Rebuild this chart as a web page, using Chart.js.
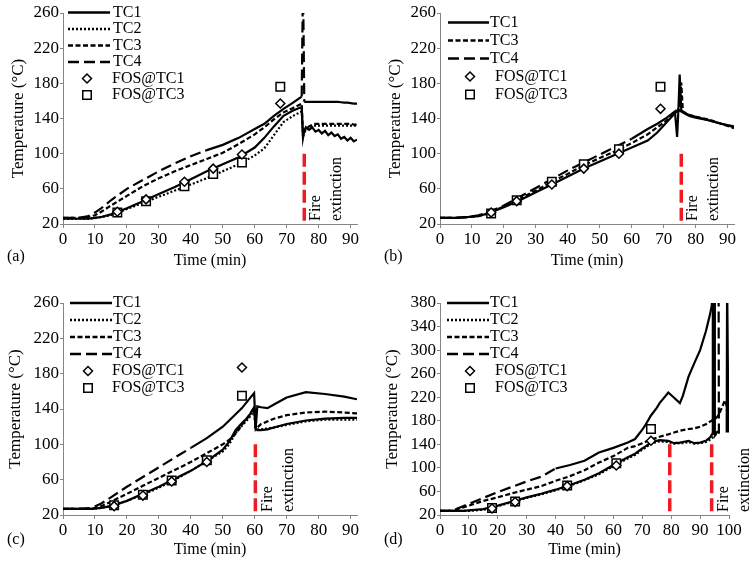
<!DOCTYPE html>
<html>
<head>
<meta charset="utf-8">
<script src="https://cdn.jsdelivr.net/npm/chart.js@4.4.1/dist/chart.umd.min.js"></script>
<style>
  body { margin: 0; background: #fff; }
  #wrap { position: relative; width: 754px; height: 566px; background: #fff; }
  canvas { position: absolute; }
</style>
</head>
<body>
<div id="wrap">
  <canvas id="chartA" width="377" height="283" style="left:0;top:0"></canvas>
  <canvas id="chartB" width="377" height="283" style="left:377px;top:0"></canvas>
  <canvas id="chartC" width="377" height="283" style="left:0;top:283px"></canvas>
  <canvas id="chartD" width="377" height="283" style="left:377px;top:283px"></canvas>
</div>
<script>
// ---- panel (a) ----
var timeA = [0, 5, 8, 10, 12, 15, 20, 25, 30, 35, 40, 45, 50, 55, 60, 63, 66, 69, 72, 74.7, 75.1, 75.5, 76, 77, 78, 79, 80, 81, 82, 83, 84, 85, 86, 87, 88, 89, 90, 91, 92];
var tc1A = [26, 26, 26, 27, 28, 31, 38, 46, 54, 62, 71, 80, 88, 96, 107, 118, 131, 143, 149, 153, 118, 126, 130, 127, 130, 125, 127, 123, 126, 121, 124, 120, 122, 117, 119, 115, 118, 114, 116];
var tc2A = [26, 26, 26, 27, 28, 30, 37, 44, 51, 58, 65, 72, 80, 88, 98, 106, 121, 136, 143, 148, 119, 124, 127, 129, 131, 132, 132, 132, 132, 132, 132, 132, 132, 132, 132, 132, 132, 132, 132];
var tc3A = [27, 27, 28, 30, 34, 41, 52, 63, 72, 80, 87, 94, 101, 111, 122, 130, 139, 147, 152, 157, 122, 125, 128, 131, 133, 134, 134, 134, 134, 134, 134, 134, 134, 134, 134, 134, 134, 133, 133];
var tc4A = [27, 27, 29, 33, 38, 47, 60, 70, 80, 89, 97, 104, 110, 118, 128, 134, 143, 151, 158, 165, 300, 159, 159, 159, 159, 159, 159, 159, 159, 159, 159, 159, 159, 158.5, 158, 158, 157.5, 157, 157];
var fosTimeA = [17, 26, 38, 47, 56, 68];
var fos1A = [34, 48, 68, 83, 99, 157];
var fos3A = [33, 46, 63, 77, 90, 176];
var fireA = [75.5];

// ---- panel (b) ----
var timeB = [0, 5, 9, 12, 15, 20, 25, 30, 35, 40, 45, 50, 55, 60, 65, 68, 71, 73.5, 74.2, 74.6, 75, 75.5, 76, 78, 80, 84, 88, 92];
var tc1B = [27, 27, 28, 29, 32, 39, 47, 56, 65, 74, 83, 91, 99, 107, 115, 124, 136, 146, 149, 150, 190, 150, 147, 143, 141, 138, 134, 130];
var tc3B = [27, 27, 28, 29, 32, 40, 49, 58, 68, 77, 87, 95, 103, 112, 122, 130, 138, 146, 148, 149, 150, 181, 148, 144, 142, 139, 134, 129];
var tc4B = [27, 27, 28, 30, 33, 41, 51, 61, 71, 81, 90, 99, 108, 117, 128, 134, 141, 148, 119, 150, 149, 148, 147, 144, 142, 138, 134, 131];
var fosTimeB = [16, 24, 35, 45, 56, 69];
var fos1B = [33, 46, 65, 83, 100, 151];
var fos3B = [32, 47, 68, 88, 105, 176];
var fireB = [75.5];

// ---- panel (c) ----
var timeC = [0, 5, 9, 12, 15, 20, 25, 30, 35, 40, 45, 50, 52, 54, 56, 58, 59.8, 60.3, 60.8, 62, 64, 66, 70, 76, 82, 88, 92];
var tc1C = [27, 27, 27, 28, 30, 36, 44, 52, 61, 70, 81, 94, 103, 116, 124, 131, 142, 118, 116, 116, 117, 119, 123, 127, 129, 130, 130];
var tc2C = [27, 27, 27, 28, 30, 36, 43, 51, 60, 70, 81, 92, 100, 113, 121, 129, 138, 118, 117, 117, 118, 119, 122, 126, 128, 128, 128];
var tc3C = [27, 27, 27, 30, 35, 44, 53, 62, 71, 80, 90, 100, 105, 112, 122, 132, 141, 117, 119, 123, 126, 129, 133, 136, 137, 136, 135];
var tc4C = [27, 27, 28, 33, 40, 52, 63, 74, 85, 96, 107, 120, 127, 134, 141, 150, 158, 118, 143, 142, 141, 145, 153, 159, 157, 154, 151];
var fosTimeC = [16, 25, 34, 45, 56];
var fos1C = [30, 42, 58, 80, 187];
var fos3C = [31, 43, 59, 82, 155];
var fireC = [60.2];

// ---- panel (d) ----
var timeD = [0, 4, 6, 8, 10, 15, 20, 25, 30, 35, 40, 45, 50, 55, 60, 65, 67.5, 70, 71, 73, 75, 76, 79, 81, 83, 84, 86, 88, 90, 92, 92.5, 93.5, 94, 94.2, 94.4, 94.9, 95.1, 96, 96.4, 96.5, 97, 98.6, 99.2, 99.35, 99.65, 99.8, 100];
var tc1D = [27, 27, 27, 27, 28, 30, 36, 43, 50, 56, 63, 71, 80, 91, 105, 118, 124, 133, 136, 143, 146, 147, 146, 142, 143, 144, 146, 142, 143, 146, 148, 152, 156, 158, 420, 420, 155, 162, null, null, null, null, 160, 420, 420, 160, null];
var tc2D = [27, 27, 27, 27, 27, 29, 35, 42, 49, 55, 62, 70, 79, 89, 103, 116, 122, 131, 134, 141, 144, 145, 144, 141, 142, 142, 144, 141, 142, 144, 145, 148, 150, 151, 152, 154, 155, 160, 163, null, null, null, null, null, null, null, null];
var tc3D = [27, 27, 30, 33, 36, 44, 50, 57, 63, 69, 78, 86, 96, 109, 120, 134, 137, 142, 144, 148, 151, 153, 157, 160, 163, 164, 166, 167, 170, 174, 175, 179, 180, 181, 181, 182, 183, 187, 190, 191, 196, 215, 205, 198, 180, 163, null];
var tc4D = [27, 27, 31, 35, 39, 49, 59, 68, 77, 85, 99, 105, 112, 126, 134, 143, 149, 165, 172, 189, 202, 210, 228, 219, 210, 222, 255, 278, 300, 332, 342, 362, 375, 385, 420, 420, 420, 420, 420, 158, null, null, null, null, null, null, null];
var fosTimeD = [18, 26, 44, 61, 73];
var fos1D = [31, 42, 69, 104, 146];
var fos3D = [32, 43, 70, 108, 166];
var fireD = [79.5, 94];

var FONT = '"Liberation Serif", "Times New Roman", serif';
var AXIS = '#858585';
var RED = '#ed1c24';
var TICKFONT = { family: FONT, size: 17, weight: 'normal' };
var XTITLE = { family: FONT, size: 16, weight: 'normal' };
var YTITLE = { family: FONT, size: 17, weight: 'normal' };
Chart.defaults.font.family = FONT;
Chart.defaults.font.size = 16;
Chart.defaults.color = '#000';

function pts(times, vals) {
    return times.map(function (t, i) { return { x: t, y: vals[i] }; });
}

// top curve: long dash early and on big jumps, solid otherwise
function tc4Dash(cut) {
    return function (ctx) {
        var p0 = ctx.p0.parsed, p1 = ctx.p1.parsed;
        if (p0.x < cut || Math.abs(p1.y - p0.y) > 60) return [11, 5];
        return [];
    };
}

function lineSet(label, times, vals, dash, extra) {
    var ds = {
        label: label, data: pts(times, vals), borderColor: '#000', borderWidth: 2.2,
        borderDash: dash, pointRadius: 0, fill: false, tension: 0, order: 1,
        legendStyle: { dash: dash }
    };
    if (extra) ds.segment = extra;
    return ds;
}

function markerSet(label, times, vals, style, r) {
    return {
        label: label, data: pts(times, vals), showLine: false, pointStyle: style,
        pointRadius: r, pointBorderWidth: 1.5, pointBorderColor: '#000',
        pointBackgroundColor: '#fff', order: 0,
        legendStyle: { marker: style, r: r }
    };
}

var annotPlugin = {
    id: 'annot',
    afterDraw: function (chart) {
        var o = chart.options.plugins.annot;
        if (!o) return;
        var ctx = chart.ctx, area = chart.chartArea, xs = chart.scales.x;
        ctx.save();
        ctx.fillStyle = '#000';
        ctx.font = '16px ' + FONT;
        ctx.textBaseline = 'middle';
        ctx.textAlign = 'left';
        // panel tag
        ctx.fillText(o.tag, 7, 257);
        // fire extinction text
        var fx = xs.getPixelForValue(o.fire[o.fire.length - 1]);
        var words = ['Fire', 'extinction'], offs = [12, 33];
        for (var i = 0; i < words.length; i++) {
            ctx.save();
            ctx.translate(fx + offs[i], area.bottom - 3);
            ctx.rotate(-Math.PI / 2);
            ctx.fillText(words[i], 0, 0);
            ctx.restore();
        }
        // legend
        var L = o.leg, row = 0;
        chart.data.datasets.forEach(function (ds) {
            var st = ds.legendStyle;
            if (!st) return;
            var y = area.top + L.row0 + row * L.step;
            row++;
            ctx.strokeStyle = '#000';
            if (st.marker) {
                var mx = area.left + L.mx;
                ctx.lineWidth = 1.5;
                ctx.setLineDash([]);
                ctx.fillStyle = '#fff';
                ctx.beginPath();
                if (st.marker === 'rect') {
                    var h = st.r * Math.SQRT1_2;
                    ctx.rect(mx - h, y - h, 2 * h, 2 * h);
                } else {
                    ctx.moveTo(mx - st.r, y); ctx.lineTo(mx, y - st.r);
                    ctx.lineTo(mx + st.r, y); ctx.lineTo(mx, y + st.r);
                    ctx.closePath();
                }
                ctx.fill();
                ctx.stroke();
                ctx.fillStyle = '#000';
                ctx.fillText(ds.label, area.left + L.ftx, y);
            } else {
                ctx.lineWidth = 2.5;
                ctx.setLineDash(st.dash);
                ctx.beginPath();
                ctx.moveTo(area.left + L.x0, y);
                ctx.lineTo(area.left + L.x1, y);
                ctx.stroke();
                ctx.setLineDash([]);
                ctx.fillText(ds.label, area.left + L.tx, y);
            }
        });
        ctx.restore();
    }
};
Chart.register(annotPlugin);

function makePanel(p) {
    var datasets = [];
    datasets.push(lineSet('TC1', p.t, p.tc1, []));
    if (p.tc2) datasets.push(lineSet('TC2', p.t, p.tc2, [2, 2]));
    datasets.push(lineSet('TC3', p.t, p.tc3, [5, 2.5]));
    datasets.push(lineSet('TC4', p.t, p.tc4, [11, 5], { borderDash: tc4Dash(p.solidAfter) }));
    datasets.push(markerSet('FOS@TC1', p.fosT, p.fos1, 'rectRot', 4.5));
    datasets.push(markerSet('FOS@TC3', p.fosT, p.fos3, 'rect', 6));
    p.fire.forEach(function (fx) {
        datasets.push({
            label: '', data: [{ x: fx, y: p.fireTop }, { x: fx, y: 20 }],
            borderColor: RED, borderWidth: 3.5, borderDash: [13, 5],
            pointRadius: 0, order: 2
        });
    });
    var b = p.box;
    new Chart(document.getElementById(p.id), {
        type: 'line',
        data: { datasets: datasets },
        options: {
            responsive: false, animation: false, devicePixelRatio: 1,
            layout: { padding: { top: b.top, right: b.right, left: 0, bottom: 0 } },
            plugins: {
                legend: { display: false }, tooltip: { enabled: false },
                annot: { tag: p.tag, fire: p.fire, leg: p.leg }
            },
            scales: {
                x: {
                    type: 'linear', min: 0, max: p.xMax,
                    ticks: { stepSize: 10, includeBounds: false, padding: 1, maxRotation: 0, autoSkip: false, font: TICKFONT, color: '#000' },
                    grid: { drawOnChartArea: false, drawTicks: true, tickLength: 4, color: AXIS },
                    border: { display: true, color: AXIS, width: 1 },
                    title: { display: true, text: 'Time (min)', font: XTITLE, color: '#000', padding: { top: 0, bottom: b.xPad } },
                    afterFit: function (s) { s.height = b.xH; }
                },
                y: {
                    type: 'linear', min: 20, max: p.yMax,
                    ticks: { stepSize: 40, padding: 1, font: TICKFONT, color: '#000' },
                    grid: { drawOnChartArea: false, drawTicks: true, tickLength: 3, color: AXIS },
                    border: { display: true, color: AXIS, width: 1 },
                    title: { display: true, text: 'Temperature (°C)', font: YTITLE, color: '#000', padding: { top: b.yPad, bottom: 0 } },
                    afterFit: function (s) { s.width = b.yW; }
                }
            }
        }
    });
}

var boxTop = { top: 13, right: 20, xH: 59, yW: 63, xPad: 13, yPad: 8 };

makePanel({ id: 'chartA', tag: '(a)', t: timeA, tc1: tc1A, tc2: tc2A, tc3: tc3A, tc4: tc4A,
    fosT: fosTimeA, fos1: fos1A, fos3: fos3A, fire: fireA, fireTop: 100, xMax: 92, yMax: 260, solidAfter: 42,
    box: boxTop, leg: { row0: -0.5, step: 16.5, x0: 5, x1: 47, tx: 50, mx: 24, ftx: 49 } });

makePanel({ id: 'chartB', tag: '(b)', t: timeB, tc1: tc1B, tc2: null, tc3: tc3B, tc4: tc4B,
    fosT: fosTimeB, fos1: fos1B, fos3: fos3B, fire: fireB, fireTop: 100, xMax: 92, yMax: 260, solidAfter: 58,
    box: boxTop, leg: { row0: 9.5, step: 18, x0: 8, x1: 49, tx: 50, mx: 30, ftx: 55 } });

makePanel({ id: 'chartC', tag: '(c)', t: timeC, tc1: tc1C, tc2: tc2C, tc3: tc3C, tc4: tc4C,
    fosT: fosTimeC, fos1: fos1C, fos3: fos3C, fire: fireC, fireTop: 100, xMax: 92, yMax: 260, solidAfter: 36,
    box: { top: 20, right: 20, xH: 51, yW: 63, xPad: 7, yPad: 5 },
    leg: { row0: 0, step: 17, x0: 7, x1: 49, tx: 50, mx: 25, ftx: 49 } });

makePanel({ id: 'chartD', tag: '(d)', t: timeD, tc1: tc1D, tc2: tc2D, tc3: tc3D, tc4: tc4D,
    fosT: fosTimeD, fos1: fos1D, fos3: fos3D, fire: fireD, fireTop: 140, xMax: 100, yMax: 380, solidAfter: 38,
    box: { top: 20, right: 25, xH: 51, yW: 63, xPad: 7, yPad: 5 },
    leg: { row0: 0, step: 17, x0: 7, x1: 49, tx: 50, mx: 30, ftx: 55 } });
</script>
</body>
</html>
